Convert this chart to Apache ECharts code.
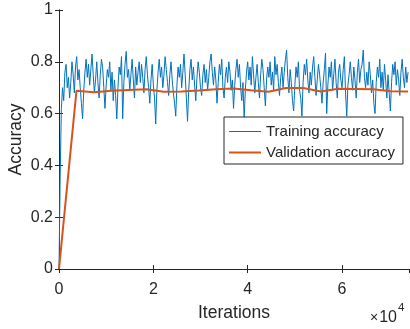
<!DOCTYPE html>
<html>
<head>
<meta charset="utf-8">
<script src="https://cdn.jsdelivr.net/npm/echarts@6/dist/echarts.min.js"></script>
<style>
  html, body { margin: 0; padding: 0; background: #fff; }
  #chart { width: 410px; height: 329px; }
</style>
</head>
<body>
<div id="chart"></div>
<script>
// training accuracy, logged every trainStep iterations
const trainStep = 250;
const trainAcc = [
  0, 0.36, 0.62, 0.70, 0.65, 0.76, 0.79, 0.70, 0.74, 0.66,
  0.72, 0.80, 0.75, 0.68, 0.78, 0.82, 0.73, 0.77, 0.70, 0.64,
  0.58, 0.69, 0.76, 0.81, 0.74, 0.79, 0.71, 0.77, 0.83, 0.75,
  0.68, 0.73, 0.80, 0.72, 0.66, 0.75, 0.81, 0.78, 0.70, 0.62,
  0.71, 0.77, 0.74, 0.80, 0.69, 0.76, 0.65, 0.73, 0.67, 0.58,
  0.70, 0.78, 0.75, 0.82, 0.58, 0.72, 0.79, 0.84, 0.74, 0.77,
  0.69, 0.75, 0.81, 0.73, 0.66, 0.78, 0.71, 0.76, 0.80, 0.72,
  0.79, 0.74, 0.68, 0.77, 0.82, 0.75, 0.70, 0.64, 0.73, 0.79,
  0.71, 0.66, 0.56, 0.69, 0.76, 0.81, 0.74, 0.78, 0.70, 0.75,
  0.82, 0.77, 0.72, 0.67, 0.75, 0.80, 0.73, 0.68, 0.64, 0.59,
  0.71, 0.78, 0.74, 0.79, 0.70, 0.76, 0.83, 0.75, 0.66, 0.57,
  0.69, 0.77, 0.81, 0.73, 0.78, 0.71, 0.65, 0.74, 0.80, 0.76,
  0.70, 0.67, 0.75, 0.79, 0.72, 0.77, 0.69, 0.74, 0.80, 0.83,
  0.76, 0.71, 0.78, 0.73, 0.64, 0.72, 0.79, 0.75, 0.81, 0.70,
  0.66, 0.74, 0.78, 0.72, 0.80, 0.76, 0.69, 0.73, 0.62, 0.71,
  0.77, 0.81, 0.74, 0.79, 0.70, 0.65, 0.72, 0.58, 0.69, 0.76,
  0.80, 0.73, 0.78, 0.71, 0.82, 0.75, 0.68, 0.74, 0.79, 0.72,
  0.66, 0.75, 0.81, 0.77, 0.70, 0.63, 0.73, 0.78, 0.74, 0.80,
  0.71, 0.76, 0.69, 0.82, 0.75, 0.79, 0.72, 0.67, 0.74, 0.78,
  0.70, 0.76, 0.81, 0.845, 0.74, 0.68, 0.77, 0.72, 0.65, 0.61,
  0.71, 0.78, 0.74, 0.80, 0.69, 0.66, 0.59, 0.72, 0.79, 0.75,
  0.81, 0.73, 0.68, 0.76, 0.71, 0.78, 0.82, 0.74, 0.67, 0.73,
  0.79, 0.75, 0.70, 0.64, 0.72, 0.77, 0.834, 0.60, 0.71, 0.78,
  0.74, 0.80, 0.69, 0.75, 0.81, 0.72, 0.66, 0.76, 0.79, 0.73,
  0.70, 0.77, 0.82, 0.68, 0.59, 0.71, 0.75, 0.80, 0.74, 0.69,
  0.78, 0.73, 0.66, 0.76, 0.81, 0.72, 0.77, 0.79, 0.845, 0.74,
  0.70, 0.76, 0.71, 0.80, 0.75, 0.68, 0.73, 0.64, 0.60, 0.72,
  0.78, 0.74, 0.81, 0.70, 0.76, 0.69, 0.79, 0.73, 0.66, 0.75,
  0.68, 0.61, 0.72, 0.79, 0.75, 0.80, 0.71, 0.77, 0.73, 0.67,
  0.76, 0.81, 0.74, 0.70, 0.78, 0.72, 0.76
];

// validation accuracy
const valIters = [0, 3700, 7400, 11100, 14800, 18500, 22200, 25900, 29600, 33300, 37000,
  40700, 44400, 48100, 51800, 55500, 59200, 62900, 66600, 70300, 74000];
const valAcc = [0, 0.688, 0.682, 0.688, 0.691, 0.694, 0.684, 0.685, 0.689, 0.694, 0.697,
  0.690, 0.684, 0.699, 0.699, 0.685, 0.696, 0.695, 0.694, 0.686, 0.685];

const xMax = 74200;
const xTicks = [0, 20000, 40000, 60000];
const yTicks = [0, 0.2, 0.4, 0.6, 0.8, 1];

const ink = '#262626';
const blue = '#0072BD';
const orange = '#D95319';
const font = 'Liberation Sans, Arial, Helvetica, sans-serif';

const chart = echarts.init(document.getElementById('chart'));

const axisCommon = {
  axisLine: {show: true, lineStyle: {color: ink, width: 1}},
  axisTick: {show: true, inside: true, length: 4, lineStyle: {color: ink}},
  splitLine: {show: false}
};

chart.setOption({
  animation: false,
  backgroundColor: '#fff',
  grid: {left: 59, right: 1, top: 10, bottom: 60, containLabel: false, outerBoundsMode: 'none'},
  xAxis: [{
    type: 'value', position: 'bottom', min: 0, max: xMax, interval: 20000,
    ...axisCommon,
    axisLabel: {
      color: ink, fontSize: 16, fontFamily: font, margin: 13, showMaxLabel: false,
      formatter: v => xTicks.includes(v) ? String(v / 10000) : ''
    },
    name: 'Iterations', nameLocation: 'middle', nameGap: 35, nameMoveOverlap: false,
    nameTextStyle: {color: ink, fontSize: 17.5, fontFamily: font}
  }, {
    type: 'value', position: 'top', min: 0, max: xMax, interval: 20000,
    ...axisCommon, axisLabel: {show: false}
  }],
  yAxis: [{
    type: 'value', position: 'left', min: 0, max: 1, interval: 0.2,
    ...axisCommon,
    axisLabel: {
      color: ink, fontSize: 16, fontFamily: font, margin: 6,
      formatter: v => String(yTicks.find(t => Math.abs(t - v) < 1e-9) ?? v)
    },
    name: 'Accuracy', nameLocation: 'middle', nameGap: 34, nameMoveOverlap: false,
    nameTextStyle: {color: ink, fontSize: 17.5, fontFamily: font}
  }, {
    type: 'value', position: 'right', min: 0, max: 1, interval: 0.2,
    ...axisCommon, axisLabel: {show: false}
  }],
  legend: {
    orient: 'vertical', left: 224, top: 117,
    padding: [7, 8, 4, 4], itemGap: 6, itemWidth: 32, itemHeight: 14,
    backgroundColor: '#fff', borderColor: ink, borderWidth: 1, borderRadius: 0,
    itemStyle: {opacity: 0},
    textStyle: {color: ink, fontSize: 15, fontFamily: font},
    data: [
      {name: 'Training accuracy', lineStyle: {color: blue, width: 1}},
      {name: 'Validation accuracy', lineStyle: {color: orange, width: 2}}
    ]
  },
  graphic: [{
    type: 'text', left: 370, top: 302,
    style: {
      text: '{x|×}{b|10}{s|4}',
      rich: {
        x: {fontSize: 14, fontFamily: font, fill: ink, padding: [8, 1, 0, 0]},
        b: {fontSize: 16, fontFamily: font, fill: ink, padding: [8, 0, 0, 0]},
        s: {fontSize: 11.5, fontFamily: font, fill: ink, verticalAlign: 'top', padding: [0, 0, 10, 1]}
      }
    }
  }],
  series: [{
    name: 'Training accuracy', type: 'line', symbol: 'none',
    lineStyle: {color: blue, width: 1}, itemStyle: {color: blue},
    data: trainAcc.map((a, i) => [i * trainStep, a]),
    z: 2
  }, {
    name: 'Validation accuracy', type: 'line', symbol: 'none',
    lineStyle: {color: orange, width: 2}, itemStyle: {color: orange},
    data: valIters.map((it, i) => [it, valAcc[i]]),
    z: 3
  }]
});
</script>
</body>
</html>
